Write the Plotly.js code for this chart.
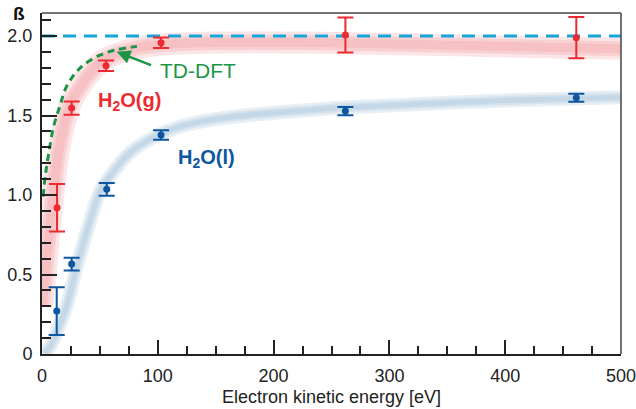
<!DOCTYPE html>
<html>
<head>
<meta charset="utf-8">
<script src="https://cdn.plot.ly/plotly-3.0.1.min.js"></script>
<style>html,body{margin:0;padding:0;background:#fff;}#chart{width:636px;height:409px;}</style>
</head>
<body>
<div id="chart"></div>
<script>
// Measured data: gas phase H2O(g)
const gasX = [13, 25.6, 55.3, 102.8, 262, 461.4];
const gasY = [0.92, 1.547, 1.813, 1.958, 2.006, 1.99];
const gasErr = [0.15, 0.042, 0.033, 0.033, 0.11, 0.13];
// Measured data: liquid H2O(l)
const liqX = [12.7, 25.6, 55.9, 102.8, 262, 461.4];
const liqY = [0.27, 0.566, 1.036, 1.377, 1.528, 1.612];
const liqErr = [0.15, 0.04, 0.04, 0.03, 0.026, 0.025];
// Guide-to-the-eye bands
const gasBandX = [0, 3, 6, 9, 13, 18, 25, 33, 42, 53, 70, 85, 110, 150, 223, 300, 400, 500];
const gasBandY = [0.3, 0.5, 0.75, 0.95, 1.2, 1.41, 1.58, 1.68, 1.77, 1.85, 1.9, 1.93, 1.95, 1.96, 1.96, 1.95, 1.935, 1.92];
const liqBandX = [2, 8, 15, 22, 30, 40, 50, 60, 75, 93, 115, 136, 175, 223, 262, 350, 420, 500];
const liqBandY = [0.0, 0.06, 0.18, 0.32, 0.55, 0.8, 1.02, 1.13, 1.26, 1.35, 1.42, 1.46, 1.5, 1.53, 1.55, 1.58, 1.6, 1.615];
// TD-DFT calculation
const tdX = [1, 3, 6, 10, 15.5, 21, 33, 50, 65, 82];
const tdY = [0.99, 1.13, 1.27, 1.43, 1.56, 1.68, 1.8, 1.88, 1.915, 1.935];
// Isotropic limit beta = 2
const limX = [0, 500];
const limY = [2, 2];
// Axis tick labels
const xTicks = [0, 100, 200, 300, 400, 500];
const yTicks = [0, 0.5, 1, 1.5, 2];
const yTickText = ['0', '0.5', '1.0', '1.5', '2.0'];

const RED = '#ec2a30', BLUE = '#0d56a0', GREEN = '#1b9646', CYAN = '#17a6d8';
const traces = [];
function band(x, y, color, widths) {
  widths.forEach(w => traces.push({x: x, y: y, mode: 'lines', type: 'scatter', hoverinfo: 'skip',
    line: {color: color, width: w, shape: 'spline', smoothing: 1}, opacity: 0.22, showlegend: false}));
}
band(gasBandX, gasBandY, 'rgb(240,135,141)', [22, 15, 9]);
band(liqBandX, liqBandY, 'rgb(146,181,211)', [14, 9, 5]);
traces.push({x: limX, y: limY, mode: 'lines', type: 'scatter', showlegend: false,
  line: {color: CYAN, width: 3, dash: '13px,8px'}});
traces.push({x: tdX, y: tdY, mode: 'lines', type: 'scatter', showlegend: false,
  line: {color: GREEN, width: 3, dash: '7px,5px', shape: 'spline', smoothing: 1}});
traces.push({x: gasX, y: gasY, mode: 'markers', type: 'scatter', showlegend: false,
  marker: {color: RED, size: 7},
  error_y: {type: 'data', array: gasErr, visible: true, color: RED, thickness: 2, width: 8}});
traces.push({x: liqX, y: liqY, mode: 'markers', type: 'scatter', showlegend: false,
  marker: {color: BLUE, size: 7},
  error_y: {type: 'data', array: liqErr, visible: true, color: BLUE, thickness: 2, width: 8}});

const FONT = 'Liberation Sans, Arial, Helvetica, sans-serif';
const layout = {
  width: 636, height: 409,
  margin: {l: 42, r: 15, t: 13, b: 55},
  paper_bgcolor: '#fff', plot_bgcolor: '#fff',
  font: {family: FONT, size: 18, color: '#222'},
  showlegend: false,
  xaxis: {range: [0, 500], tickvals: xTicks, ticks: 'inside', ticklen: 14, tickwidth: 2, tickcolor: '#222',
    minor: {dtick: 25, ticks: 'inside', ticklen: 8, tickwidth: 2, tickcolor: '#222'},
    showline: true, linecolor: '#222', linewidth: 2, showgrid: false, zeroline: false,
    tickfont: {size: 18}, ticklabelstandoff: 4, ticklabeloverflow: 'allow',
    title: {text: 'Electron kinetic energy [eV]', font: {size: 18}, standoff: 6}},
  yaxis: {range: [0, 2.145], ticks: 'inside', ticklen: 15, tickwidth: 2, tickcolor: '#222',
    minor: {dtick: 0.1, tick0: 0, ticks: 'inside', ticklen: 9, tickwidth: 2, tickcolor: '#222'},
    tickvals: yTicks, ticktext: yTickText,
    showline: true, linecolor: '#222', linewidth: 2, showgrid: false, zeroline: false,
    tickfont: {size: 18}, ticklabelstandoff: 4},
  shapes: [
    {type: 'line', xref: 'paper', yref: 'paper', x0: 0, x1: 1, y0: 1, y1: 1, line: {color: '#444', width: 1.5}},
    {type: 'line', xref: 'paper', yref: 'paper', x0: 1, x1: 1, y0: 0, y1: 1, line: {color: '#444', width: 1.5}}
  ],
  annotations: [
    {xref: 'paper', yref: 'paper', x: -0.039, y: 1.0, text: '<b>ß</b>', showarrow: false,
      xanchor: 'center', yanchor: 'middle', font: {size: 19, color: '#111'}},
    {x: 64.5, y: 1.901, ax: 97.6, ay: 1.807, axref: 'x', ayref: 'y', xref: 'x', yref: 'y', text: ' ',
      showarrow: true, arrowhead: 2, arrowsize: 1.1, arrowwidth: 2.5, arrowcolor: GREEN},
    {x: 100, y: 1.786, text: 'TD-DFT', showarrow: false, xanchor: 'left', yanchor: 'middle',
      font: {size: 21, color: GREEN}},
    {x: 47, y: 1.59, text: '<b>H<sub>2</sub>O(g)</b>', showarrow: false, xanchor: 'left', yanchor: 'middle',
      font: {size: 20, color: RED}},
    {x: 115.5, y: 1.23, text: '<b>H<sub>2</sub>O(l)</b>', showarrow: false, xanchor: 'left', yanchor: 'middle',
      font: {size: 20, color: BLUE}}
  ]
};
Plotly.newPlot('chart', traces, layout, {staticPlot: true, displayModeBar: false});
</script>
</body>
</html>
